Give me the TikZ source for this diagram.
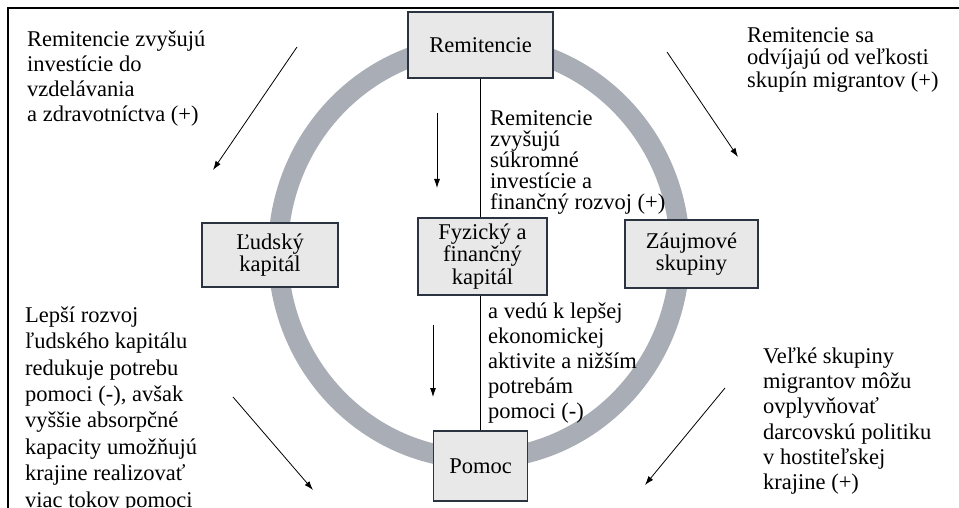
\documentclass[tikz,border=0pt]{standalone}
\usepackage{fontspec}
\setmainfont{Liberation Serif}
\usetikzlibrary{positioning,arrows.meta}

\definecolor{boxfill}{HTML}{E8E8E8}
\definecolor{boxline}{HTML}{2B3340}
\definecolor{ringgray}{HTML}{A9ADB6}

\newcommand{\txt}[1]{\fontsize{22.5}{#1}\selectfont}

\begin{document}
\begin{tikzpicture}[x=1pt, y=-1pt,
  box/.style={draw=boxline, fill=boxfill, line width=1.3pt, align=center,
    inner sep=0pt, font=\txt{22.5}},
  note/.style={align=left, inner sep=0pt},
  flow/.style={-{Latex[length=9pt,width=6pt]}, line width=0.8pt}]

  \useasboundingbox (0,0) rectangle (959,508);

  % Ring and frame:
  \draw[ringgray, line width=20pt] (479,252) ellipse [x radius=201, y radius=207];
  \draw[line width=2.5pt] (959,8) -- (8,8) -- (8,508);

  % Nodes:
  \node[box, minimum width=145pt, minimum height=66pt] (rem) at (480.5,45) {Remitencie};
  \node[box, minimum width=136pt, minimum height=64pt] (human) at (270,255) {Ľudský\\kapitál};
  \node[box, minimum width=129pt, minimum height=77pt] (phys) at (482.5,256.5) {Fyzický a\\finančný\\kapitál};
  \node[box, minimum width=133pt, minimum height=68pt] (group) at (691.5,254) {Záujmové\\skupiny};
  \node[box, minimum width=94pt, minimum height=70pt] (aid) at (480.5,466) {Pomoc};

  % Connections:
  \coordinate (split) at (phys.south -| rem.south);
  \draw[line width=0.9pt] (rem.south) -- (rem.south |- phys.north);
  \draw[line width=0.9pt] (split) -- (aid.north -| split);

  % Notes:
  \node[note, anchor=north west, font=\txt{25}] (tlnote) at (27,31)
    {Remitencie zvyšujú\\investície do\\vzdelávania\\a zdravotníctva (+)};
  \node[note, anchor=north west, font=\txt{22.5}] (trnote) at (747,27)
    {Remitencie sa\\odvíjajú od veľkosti\\skupín migrantov (+)};
  \node[note, below right=32pt and 9.5pt of rem.south, font=\txt{21}] (upnote)
    {Remitencie\\zvyšujú\\súkromné\\investície a\\finančný rozvoj (+)};
  \node[note, below right=6.5pt and 7.5pt of split, font=\txt{25}] (lownote)
    {a vedú k lepšej\\ekonomickej\\aktivite a nižším\\potrebám\\pomoci (-)};
  \node[note, anchor=north west, font=\txt{26.4}] (blnote) at (25,306.5)
    {Lepší rozvoj\\ľudského kapitálu\\redukuje potrebu\\pomoci (-), avšak\\vyššie absorpčné\\kapacity umožňujú\\krajine realizovať\\viac tokov pomoci};
  \node[note, anchor=north west, font=\txt{25.3}] (brnote) at (763,347.5)
    {Veľké skupiny\\migrantov môžu\\ovplyvňovať\\darcovskú politiku\\v hostiteľskej\\krajine (+)};

  % Arrows:
  \coordinate (a1) at (297,47);  \coordinate (b1) at (213,170);
  \coordinate (a2) at (437,113); \coordinate (b2) at (437,188);
  \coordinate (a3) at (667,52);  \coordinate (b3) at (738,157);
  \coordinate (a4) at (233,397); \coordinate (b4) at (313,490);
  \coordinate (a5) at (433,325); \coordinate (b5) at (433,397);
  \coordinate (a6) at (725,388); \coordinate (b6) at (645,485);
  \foreach \i in {1,...,6}
    \draw[flow] (a\i) -- (b\i);

\end{tikzpicture}
\end{document}
